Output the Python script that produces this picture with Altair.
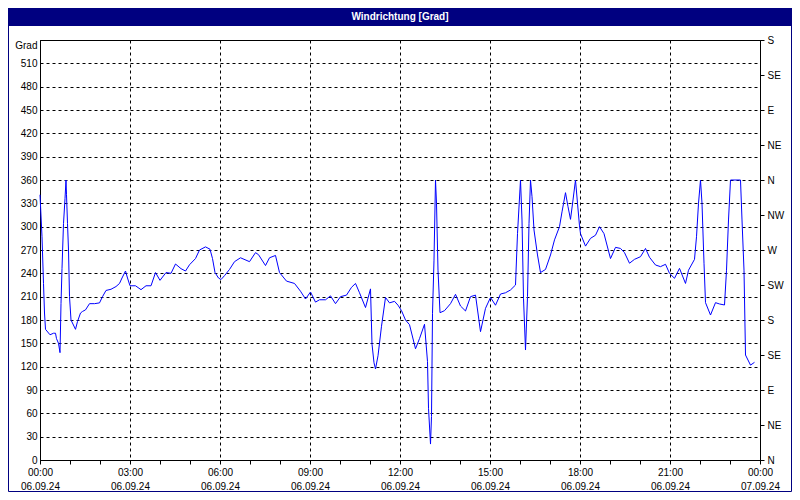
import json
import altair as alt
import pandas as pd

TITLE = "Windrichtung [Grad]"
Y_UNIT = "Grad"

# minutes after 06.09.24 00:00
MINUTES = [
    0, 4, 7, 9, 11, 20, 27, 31, 33, 37, 40, 42, 44, 47, 50, 52, 53, 55, 57, 59,
    62, 71, 75, 81, 85, 91, 99, 109, 119, 125, 132, 142, 152, 159, 164, 171, 175, 180, 191, 202,
    212, 222, 231, 240, 252, 262, 271, 282, 291, 299, 311, 319, 331, 340, 345, 350, 357, 362, 369, 379,
    389, 401, 419, 431, 437, 451, 459, 471, 479, 493, 509, 521, 531, 541, 551, 559, 571, 581, 591, 601,
    613, 623, 631, 639, 651, 661, 664, 668, 671, 676, 683, 691, 699, 709, 716, 723, 731, 739, 751, 759,
    769, 775, 777, 781, 783, 785, 788, 791, 793, 796, 800, 809, 821, 831, 841, 851, 861, 871, 881, 891,
    901, 911, 921, 931, 941, 951, 955, 961, 964, 967, 971, 975, 978, 981, 984, 988, 995, 1001, 1011, 1021,
    1029, 1039, 1044, 1051, 1056, 1061, 1066, 1071, 1075, 1079, 1081, 1091, 1101, 1111, 1119, 1128, 1141, 1151, 1161, 1169,
    1179, 1189, 1201, 1211, 1219, 1231, 1241, 1251, 1259, 1269, 1279, 1291, 1297, 1309, 1313, 1317, 1321, 1324, 1328, 1331,
    1341, 1351, 1359, 1369, 1373, 1377, 1381, 1401, 1404, 1408, 1411, 1421, 1429,
]

DIRECTION = [
    341, 287, 227, 189, 168, 161, 163, 163, 156, 150, 138, 201, 246, 304, 336, 360, 341, 304, 270, 210,
    180, 168, 178, 189, 191, 193, 201, 201, 202, 210, 218, 219.5, 223, 227, 234, 243, 234, 224, 224, 219,
    224, 224, 241, 231, 241, 240, 252, 246, 243, 251, 259, 270, 274, 271, 259, 241, 234, 232, 237, 245,
    255, 260, 255, 266.6, 264, 250, 260, 263, 241, 230, 227, 217, 207, 216, 203, 206, 206, 211, 201, 210,
    212, 222, 227, 215, 196, 220, 149, 125, 117, 134, 172, 209, 202, 204, 199, 192, 180, 174, 143, 156,
    174.5, 126.5, 66.5, 20.5, 56, 188.6, 257, 360, 330, 244, 189.4, 192, 201, 213, 198, 191.6, 210, 212, 165, 195,
    209, 199, 213.4, 215, 218.6, 225, 291, 360, 308.6, 208, 141.4, 210, 304, 360, 338.6, 295.7, 263.6, 241, 245, 263.6,
    283, 300, 319, 343.7, 325.7, 309.4, 334.3, 360, 330, 301, 291, 275, 285, 289, 300, 291, 259, 273.4, 272, 266.6,
    253, 258, 261.4, 272, 260.6, 250.7, 248.6, 251.6, 240, 233.6, 246.4, 227, 244, 258, 287, 330, 360, 330, 253, 202.3,
    186.4, 202.3, 200.6, 199.3, 244, 308.6, 360, 360, 308.6, 244, 135, 122, 125.6,
]

TIME_LABELS = ["00:00", "03:00", "06:00", "09:00", "12:00", "15:00", "18:00", "21:00", "00:00"]
DATE_LABELS = ["06.09.24"] * 8 + ["07.09.24"]
COMPASS = ["N", "NE", "E", "SE", "S", "SW", "W", "NW", "N", "NE", "E", "SE", "S"]

df = pd.DataFrame({"hour": [m / 60 for m in MINUTES], "deg": DIRECTION})

NAVY = "#000080"
BLUE = "#0000ff"
FONT = "Liberation Sans"

W, H = 720, 420
PAD = 32

x_label_expr = (
    f"datum.value % 3 == 0 ? [{json.dumps(TIME_LABELS)}[datum.value / 3], "
    f"{json.dumps(DATE_LABELS)}[datum.value / 3]] : ''"
)

x_enc = alt.X(
    "hour:Q",
    scale=alt.Scale(domain=[0, 24], nice=False, zero=False),
    axis=alt.Axis(
        values=list(range(25)),
        labelExpr=x_label_expr,
        title=None,
        grid=True,
        gridColor="black",
        gridDash=[3, 3],
        gridOpacity={"condition": {"test": "datum.value % 3 == 0", "value": 1}, "value": 0},
        tickSize=4,
        tickColor="black",
        domainColor="black",
        labelFlush=False,
        labelOverlap=False,
        labelPadding=3,
        labelLineHeight=14,
        labelBaseline="top",
        labelFont=FONT,
        labelFontSize=10,
        labelColor="black",
    ),
)

y_scale = alt.Scale(domain=[0, 540], nice=False, zero=True)

y_left = alt.Y(
    "deg:Q",
    scale=y_scale,
    axis=alt.Axis(
        orient="left",
        values=list(range(0, 541, 30)),
        labelExpr=f"datum.value == 540 ? '{Y_UNIT}' : datum.label",
        labelBaseline={"condition": {"test": "datum.value == 540", "value": "top"}, "value": "middle"},
        ticks=False,
        labelPadding=3,
        grid=True,
        gridColor="black",
        gridDash=[3, 3],
        domainColor="black",
        title=None,
        labelFont=FONT,
        labelFontSize=10,
        labelColor="black",
    ),
)

y_right = alt.Y(
    "deg:Q",
    scale=y_scale,
    axis=alt.Axis(
        orient="right",
        values=list(range(0, 541, 45)),
        labelExpr=f"{json.dumps(COMPASS)}[round(datum.value / 45)]",
        grid=False,
        tickSize=4,
        tickColor="black",
        labelPadding=3,
        domainColor="black",
        title=None,
        labelFont=FONT,
        labelFontSize=10,
        labelColor="black",
    ),
)

line = alt.Chart(df).mark_line(color=BLUE, strokeWidth=1).encode(x=x_enc, y=y_left)
right = alt.Chart(df).mark_line(opacity=0).encode(x=x_enc, y=y_right)

one = pd.DataFrame({"t": [TITLE]})
frame = alt.Chart(one).mark_rect(filled=False, stroke=NAVY, strokeWidth=1).encode(
    x=alt.value(-PAD + 0.5), x2=alt.value(W + PAD - 0.5),
    y=alt.value(-PAD + 0.5), y2=alt.value(H + PAD - 0.5),
)
bar = alt.Chart(one).mark_rect(color=NAVY).encode(
    x=alt.value(-PAD), x2=alt.value(W + PAD),
    y=alt.value(-PAD), y2=alt.value(-14),
)
title = alt.Chart(one).mark_text(
    color="white", font=FONT, fontSize=10, fontWeight="bold", align="center", baseline="middle"
).encode(text="t:N", x=alt.value(W / 2), y=alt.value(-23))

chart = (
    alt.layer(line, right, frame, bar, title)
    .resolve_axis(y="independent")
    .properties(
        width=W,
        height=H,
        autosize=alt.AutoSizeParams(type="none"),
        padding={"left": PAD, "top": PAD, "right": PAD, "bottom": PAD},
        background="white",
    )
    .configure_view(stroke="black", strokeWidth=1)
)

chart.save("out.html", embed_options={"renderer": "svg", "actions": False})
